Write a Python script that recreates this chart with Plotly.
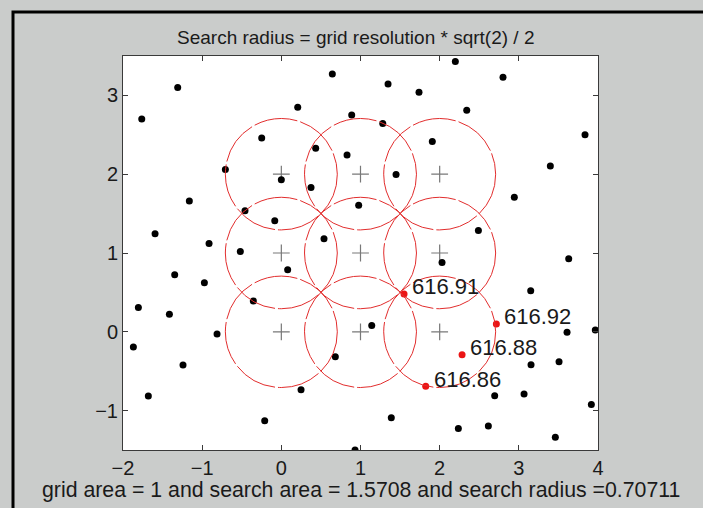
import plotly.graph_objects as go

# ---------------- data ----------------
pts_x = [-1.763, -1.309, 0.644, 0.207, 0.889, -0.248, 0.434, 0.830, -0.707, 0.000,
         0.375, 0.977, -1.162, -0.459, -0.083, -1.595, -0.913, -0.518, 0.539,
         2.198, 2.800, 1.348, 1.739, 2.342, 1.281, 3.836, 1.907, 3.398, 1.449,
         2.943, 2.489, 3.630,
         0.080, -1.347, -0.972, -1.806, -1.414, -0.354, -0.812, -1.869, -1.242,
         0.682, 0.249, -1.680, -0.210, 0.931,
         2.030, 3.150, 1.142, 3.609, 3.966, 3.154, 3.508, 2.695, 3.066, 3.916,
         1.389, 2.236, 2.615, 3.461]
pts_y = [2.700, 3.100, 3.270, 2.850, 2.750, 2.460, 2.330, 2.245, 2.060, 1.930,
         1.830, 1.605, 1.660, 1.537, 1.410, 1.245, 1.120, 1.020, 1.180,
         3.430, 3.230, 3.145, 3.040, 2.810, 2.644, 2.500, 2.415, 2.105, 1.995,
         1.707, 1.287, 0.926,
         0.787, 0.723, 0.621, 0.308, 0.222, 0.392, -0.028, -0.193, -0.422,
         -0.316, -0.735, -0.816, -1.130, -1.500,
         0.880, 0.520, 0.079, -0.006, 0.023, -0.418, -0.380, -0.812, -0.790, -0.922,
         -1.092, -1.228, -1.194, -1.338]

grid_x = [0, 1, 2, 0, 1, 2, 0, 1, 2]
grid_y = [0, 0, 0, 1, 1, 1, 2, 2, 2]
search_radius = 0.70711

red_x = [1.55, 2.716, 2.283, 1.824]
red_y = [0.48, 0.100, -0.290, -0.690]
red_labels = ["616.91", "616.92", "616.88", "616.86"]

x_ticks = [-2, -1, 0, 1, 2, 3, 4]
y_ticks = [-1, 0, 1, 2, 3]

title_text = "Search radius = grid resolution * sqrt(2) / 2"
xlabel_text = "grid area = 1 and search area = 1.5708 and search radius =0.70711"

# ---------------- layout geometry ----------------
W, H = 703, 508
L, R, T, B = 123, 598, 56, 450  # plot area in pixels
FONT = "Liberation Sans, Arial, Helvetica, sans-serif"


def px2paper_x(px):
    return (px - L) / (R - L)


def px2paper_y(py):
    return (B - py) / (B - T)


fig = go.Figure()

# circles
for cx, cy in zip(grid_x, grid_y):
    fig.add_shape(type="circle", xref="x", yref="y",
                  x0=cx - search_radius, x1=cx + search_radius,
                  y0=cy - search_radius, y1=cy + search_radius,
                  line=dict(color="rgb(226,45,45)", width=1, dash="44px,3px"),
                  layer="above")

# grid centers
fig.add_trace(go.Scatter(x=grid_x, y=grid_y, mode="markers",
                         marker=dict(symbol="cross-thin", size=12,
                                     line=dict(color="rgb(120,120,120)", width=1.2)),
                         showlegend=False, hoverinfo="skip"))

# data points
fig.add_trace(go.Scatter(x=pts_x, y=pts_y, mode="markers",
                         marker=dict(color="black", size=7),
                         showlegend=False))

# red points
fig.add_trace(go.Scatter(x=red_x, y=red_y, mode="markers",
                         marker=dict(color="rgb(235,20,20)", size=7),
                         showlegend=False))

for x, y, t in zip(red_x, red_y, red_labels):
    fig.add_annotation(x=x, y=y, xref="x", yref="y", text=t, showarrow=False,
                       xanchor="left", yanchor="middle", xshift=6, yshift=7,
                       font=dict(family=FONT, size=22, color="#1a1a1a"))

# title and x label
fig.add_annotation(x=px2paper_x(355), y=px2paper_y(38), xref="paper", yref="paper",
                   text=title_text, showarrow=False, xanchor="center", yanchor="middle",
                   font=dict(family=FONT, size=19, color="#1a1a1a"))
fig.add_annotation(x=px2paper_x(361), y=px2paper_y(490), xref="paper", yref="paper",
                   text=xlabel_text, showarrow=False, xanchor="center", yanchor="middle",
                   font=dict(family=FONT, size=21.3, color="#1a1a1a"))

# black figure frame: one outlined rectangle whose right/bottom sides lie off-page
fig.add_shape(type="rect", xref="paper", yref="paper",
              x0=px2paper_x(13), x1=px2paper_x(W + 80),
              y0=px2paper_y(H + 80), y1=px2paper_y(12),
              line=dict(color="black", width=3), fillcolor="rgba(0,0,0,0)",
              layer="above")

axis_common = dict(showgrid=False, zeroline=False, showline=True, linecolor="#3a3a3a",
                   linewidth=1, ticks="inside", ticklen=5, tickcolor="#3a3a3a",
                   mirror="ticks",
                   tickfont=dict(family=FONT, size=20, color="#1a1a1a"))

fig.update_layout(
    width=W, height=H,
    margin=dict(l=L, r=W - R, t=T, b=H - B, pad=0),
    paper_bgcolor="rgb(202,204,203)",
    plot_bgcolor="white",
    xaxis=dict(range=[-2, 4], tickvals=x_ticks, **axis_common),
    yaxis=dict(range=[-1.5, 3.5], tickvals=y_ticks, **axis_common),
    showlegend=False,
)

fig.write_html("out.html", config={"displayModeBar": False},
               post_script=("document.documentElement.style.overflow='hidden';"
                            "document.body.style.margin='0';"
                            "document.body.style.overflow='hidden';"))
